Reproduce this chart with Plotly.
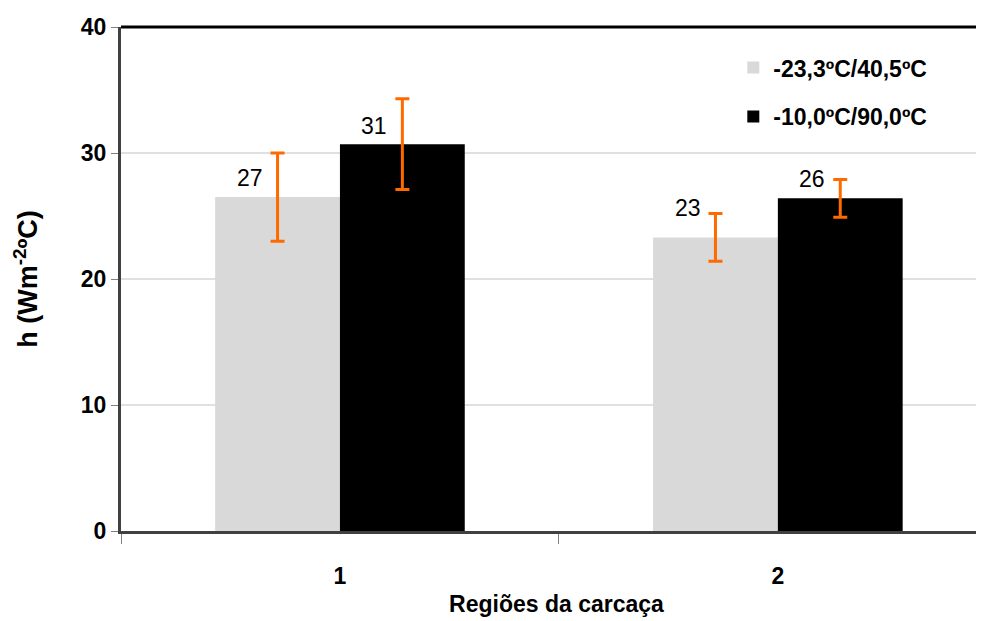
import plotly.graph_objects as go

categories = ["1", "2"]
series_names = ["-23,3ºC/40,5ºC", "-10,0ºC/90,0ºC"]
values_a = [26.5, 23.3]
values_b = [30.7, 26.4]
err_a = [3.5, 1.9]
err_b = [3.6, 1.5]
labels_a = ["27", "23"]
labels_b = ["31", "26"]
y_ticks = [0, 10, 20, 30, 40]

colors = ["#d9d9d9", "#000000"]
orange = "#ff6a00"

fig = go.Figure()
for i, (name, vals, errs) in enumerate([(series_names[0], values_a, err_a), (series_names[1], values_b, err_b)]):
    fig.add_trace(go.Bar(
        x=categories, y=vals, name=name, legendgroup=f"g{i}",
        marker=dict(color=colors[i], line=dict(width=0)),
        error_y=dict(type="data", array=errs, color=orange, thickness=3, width=7),
    ))

# data labels
yshifts_a = [19, 29]
yshifts_b = [18, 19]
for j, cat in enumerate(categories):
    for k, (vals, labs, ys) in enumerate([(values_a, labels_a, yshifts_a), (values_b, labels_b, yshifts_b)]):
        fig.add_annotation(
            x=j, y=vals[j], text=labs[j], showarrow=False,
            xref="x", yref="y", xshift=(-62 if k == 0 else 62) - 28, yshift=ys[j],
            font=dict(family="Liberation Sans, Arial", size=23, color="#000"),
        )

fig.update_layout(
    width=984, height=621,
    margin=dict(l=113, r=0, t=19, b=98),
    paper_bgcolor="white", plot_bgcolor="white",
    barmode="group", bargap=0.43, bargroupgap=0,
    showlegend=True,
    legend=dict(
        x=0.703, y=0.962, xanchor="left", yanchor="top",
        font=dict(family="Liberation Sans, Arial", size=23, color="#000", weight="bold"),
        tracegroupgap=16, traceorder="grouped", bgcolor="rgba(0,0,0,0)",
        itemwidth=30,
    ),
    xaxis=dict(
        range=[-0.5, 1.489], showline=True, linecolor="#404040", linewidth=3,
        ticks="outside", tickson="boundaries", ticklen=10, tickcolor="#808080", tickwidth=1,
        tickfont=dict(family="Liberation Sans, Arial", size=23, color="#000", weight="bold"),
        ticklabelstandoff=22,
        title=dict(text="Regiões da carcaça", standoff=9,
                   font=dict(family="Liberation Sans, Arial", size=23, color="#000", weight="bold")),
        showgrid=False, zeroline=False, automargin=False,
    ),
    yaxis=dict(
        range=[0, 40], tickvals=y_ticks, showline=True, linecolor="#404040", linewidth=3,
        ticks="outside", ticklen=7, tickcolor="#808080", tickwidth=1,
        showgrid=True, gridcolor="#e0e0e0", gridwidth=1.5, zeroline=False,
        tickfont=dict(family="Liberation Sans, Arial", size=23, color="#000", weight="bold"),
        title=dict(text="h (Wm<sup>-2</sup>ºC)", standoff=36,
                   font=dict(family="Liberation Sans, Arial", size=27, color="#000", weight="bold")),
        automargin=False,
    ),
)

fig.add_shape(type="line", xref="paper", yref="paper", x0=0, x1=1, y0=1, y1=1,
              line=dict(color="#000", width=3))

fig.write_html("out.html")
